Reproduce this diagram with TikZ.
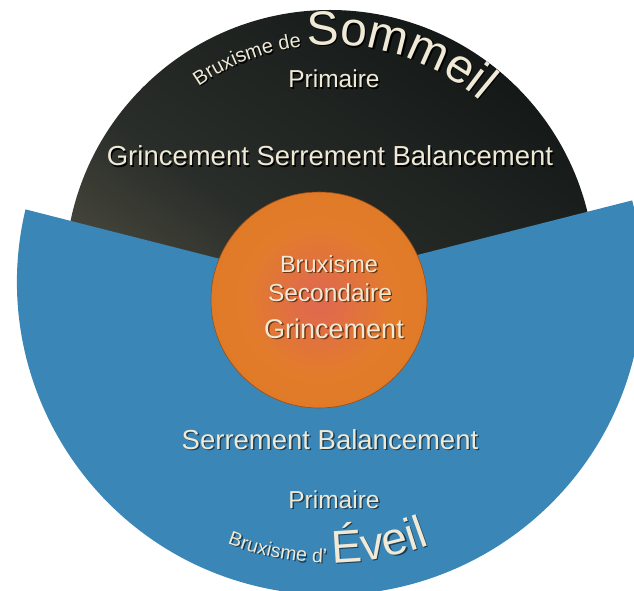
\documentclass[tikz,border=0pt]{standalone}
\usepackage{fontspec}
\setmainfont{Liberation Sans}
\usetikzlibrary{decorations.text}
\definecolor{darktop}{HTML}{141918}
\definecolor{darkmid}{HTML}{2A2E2A}
\definecolor{olive}{HTML}{6A6450}
\definecolor{bluefill}{RGB}{58,134,183}
\definecolor{blueshadow}{RGB}{25,60,85}
\definecolor{cream}{HTML}{EFE9D6}
\definecolor{oc1}{HTML}{E06A4C}
\definecolor{oc2}{HTML}{E27C2C}
\definecolor{oc3}{HTML}{DC771E}
\definecolor{oc4}{HTML}{B85A14}
\definecolor{orshadow}{HTML}{6A3510}
\pgfdeclareradialshading{orangeball}{\pgfpoint{0bp}{0bp}}{color(0bp)=(oc1); color(3bp)=(oc1); color(17bp)=(oc2); color(40bp)=(oc3); color(49bp)=(oc3); color(50bp)=(oc4)}
\newcommand\shtext[2]{\leavevmode\rlap{\kern1.4pt\raisebox{-1.4pt}{\textcolor{#1}{#2}}}#2}
\tikzset{
  lbl/.style={text=cream, inner sep=0pt, anchor=base},
  fs/.style={font=\fontsize{#1}{#1}\selectfont},
}
\begin{document}
\begin{tikzpicture}[x=1pt,y=1pt]
\useasboundingbox (0,0) rectangle (634,590);
% dark circle
\shade[top color=darktop, bottom color=olive, middle color=darkmid, shading angle=-35]
  (330,315) circle[radius=265];
% blue sector
\fill[bluefill] (311,308) -- (25.5,380.6) arc[start angle=166.6, end angle=375.1, radius=313] -- cycle;
% orange disc
\shade[shading=orangeball, draw=oc4!85!black, line width=0.6pt] (319,290) circle[radius=108];

% top arc text
\path[shift={(331.3,313.7)}, decorate, decoration={text along path, text align=left,
  text={|\color{black}\fontsize{20}{21}\selectfont|Bruxisme de |\color{black}\fontsize{48}{50}\selectfont|Sommeil}}]
  (124.8:230) arc[start angle=124.8, end angle=20, radius=230];
\path[shift={(330,315)}, decorate, decoration={text along path, text align=left,
  text={|\color{cream}\fontsize{20}{21}\selectfont|Bruxisme de |\color{cream}\fontsize{48}{50}\selectfont|Sommeil}}]
  (124.8:230) arc[start angle=124.8, end angle=20, radius=230];

\node[lbl, fs=24.5] (p1) at (334,502) {\shtext{black}{Primaire}};
\node[lbl, fs=27.5] (g1) at (330,424) {\shtext{black}{Grincement Serrement Balancement}};

% orange texts
\node[lbl, fs=23.5] (o1) at (329,318) {\shtext{orshadow}{Bruxisme}};
\node[lbl, fs=24.5] (o2) at (330,289) {\shtext{orshadow}{Secondaire}};
\node[lbl, fs=27] (o3) at (334,252) {\shtext{orshadow}{Grincement}};

% blue texts
\node[lbl, fs=27.5] (s1) at (330,141) {\shtext{blueshadow}{Serrement Balancement}};
\node[lbl, fs=24.5] (p2) at (334,82) {\shtext{blueshadow}{Primaire}};

% bottom arc text
\path[shift={(331.3,306.7)}, decorate, decoration={text along path, text align=left,
  text={|\color{blueshadow}\fontsize{19.5}{21}\selectfont|Bruxisme d' |\color{blueshadow}\fontsize{46}{48}\selectfont|Éveil}}]
  (-111.4:281) arc[start angle=-111.4, end angle=-40, radius=281];
\path[shift={(330,308)}, decorate, decoration={text along path, text align=left,
  text={|\color{cream}\fontsize{19.5}{21}\selectfont|Bruxisme d' |\color{cream}\fontsize{46}{48}\selectfont|Éveil}}]
  (-111.4:281) arc[start angle=-111.4, end angle=-40, radius=281];
\end{tikzpicture}
\end{document}
